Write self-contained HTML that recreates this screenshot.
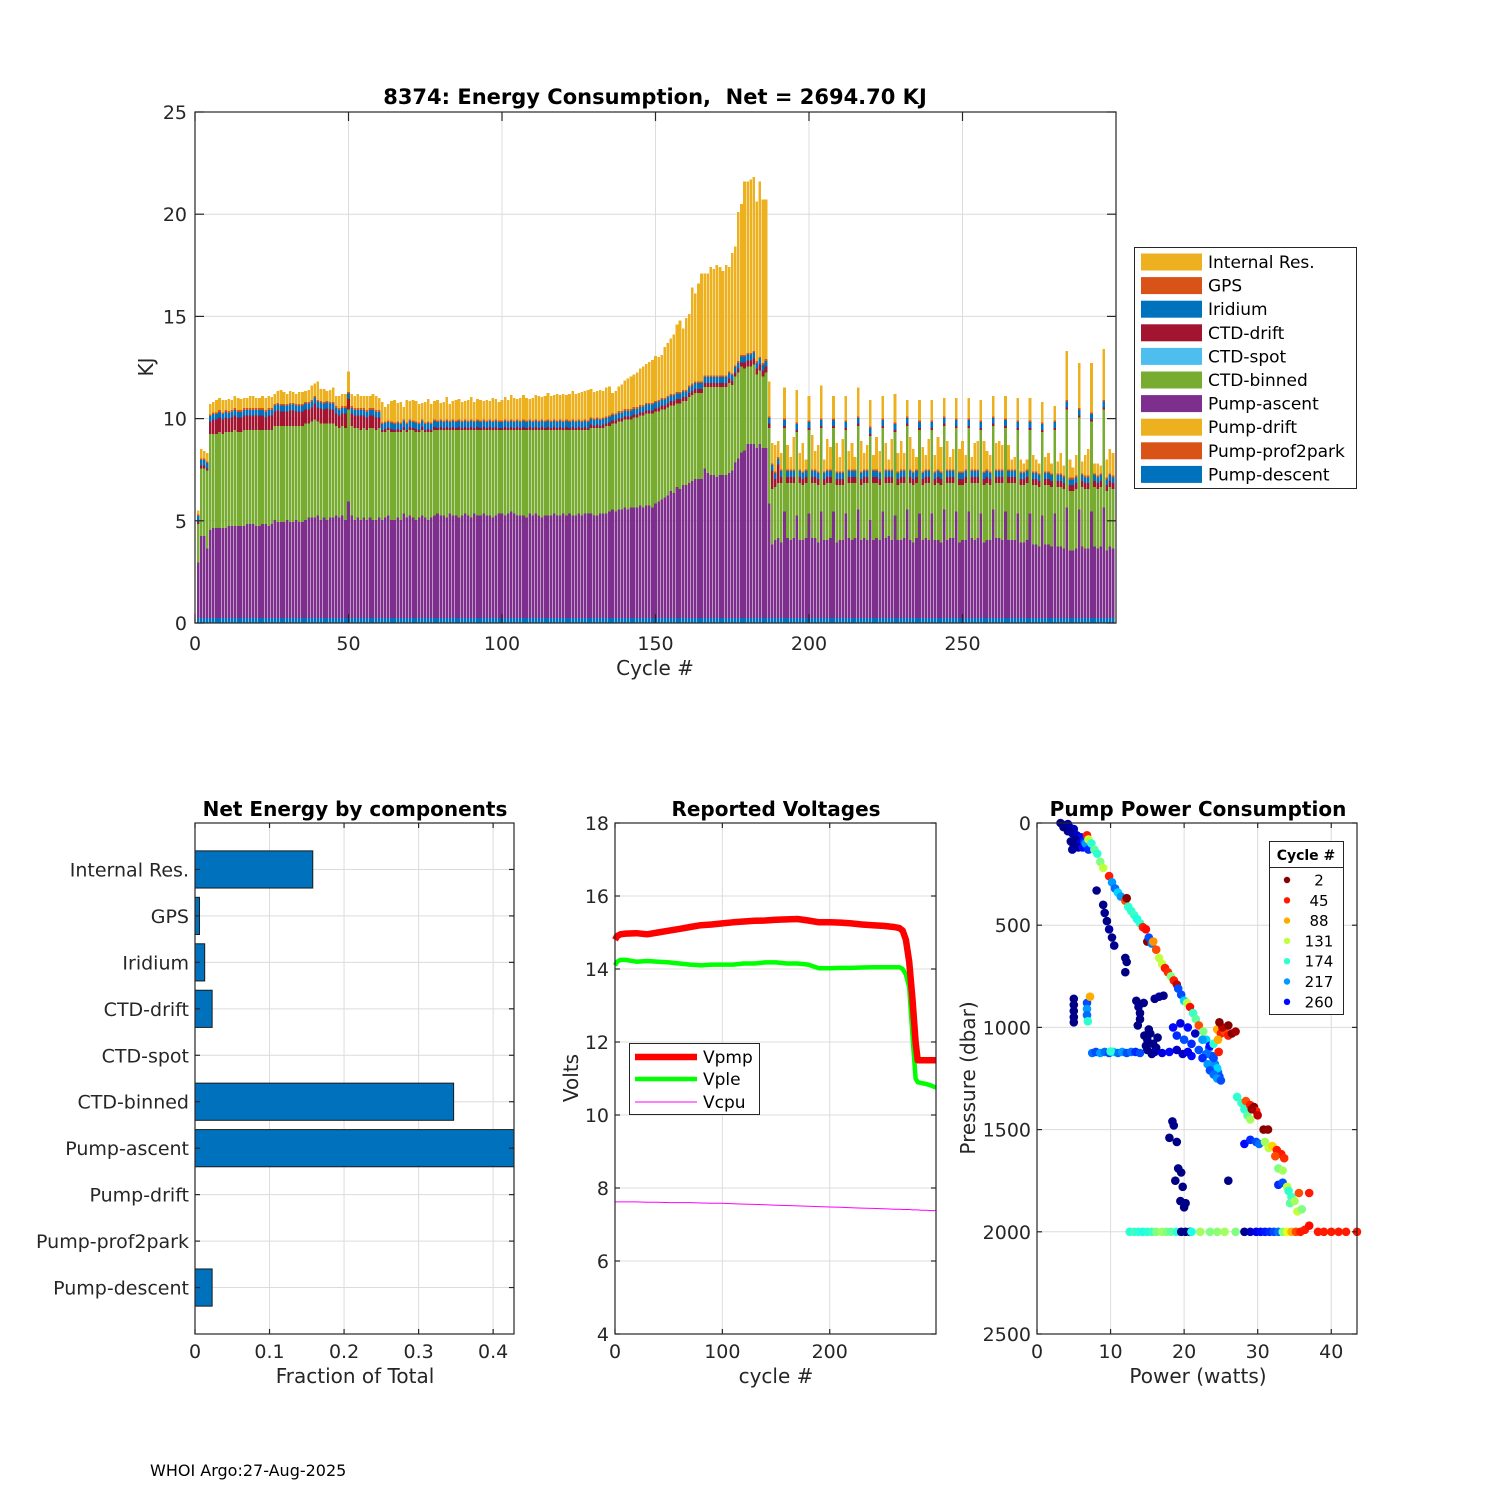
<!DOCTYPE html>
<html><head><meta charset="utf-8">
<style>
html,body{margin:0;padding:0;background:#fff;}
svg{display:block;font-family:"DejaVu Sans","Liberation Sans",sans-serif;}
text{fill:#262626;white-space:pre;}
</style></head>
<body>
<svg id="fig" width="1500" height="1500" viewBox="0 0 1500 1500">
<rect x="0" y="0" width="1500" height="1500" fill="#fff"/>
<g id="top"></g>
<g id="bl"></g>
<g id="bm"></g>
<g id="br"></g>
<text x="150" y="1476" font-size="16" style="fill:#000">WHOI Argo:27-Aug-2025</text>
</svg>
<script>
// ===== Top chart data (KJ per cycle, cycles 1..299) =====
const pumpAscent = [2.7,4.0,4.0,3.4,
4.3,4.4,4.4,4.4,4.4,4.4,4.5,4.5,4.5,4.5,4.5,4.5,4.6,
4.6,4.6,4.5,4.5,4.6,4.6,4.5,4.6,
4.8,4.7,4.7,4.7,4.8,4.7,4.7,4.8,4.7,4.7,
4.8,4.9,4.9,4.9,5.0,4.8,4.9,4.8,4.9,4.9,
5.0,4.9,5.0,4.8,5.7,5.0,4.8,4.9,4.8,4.9,4.8,4.9,4.8,4.8,4.9,
4.8,4.9,5.0,4.8,4.8,4.9,4.8,5.1,4.9,5.0,4.9,4.8,4.9,5.0,4.9,4.8,4.9,5.0,5.1,5.0,5.0,4.9,5.1,5.0,5.0,4.9,5.0,5.1,5.0,4.9,5.1,5.0,5.0,5.1,5.0,5.0,4.9,5.0,5.1,
5.1,5.0,5.1,5.2,5.1,5.0,5.0,5.0,4.9,5.1,5.0,5.1,5.0,4.9,5.0,5.0,5.0,5.1,5.0,5.0,5.1,5.0,5.1,5.0,5.0,5.1,5.0,5.1,5.1,5.1,5.0,5.0,5.1,5.1,5.1,5.2,
5.3,5.2,5.3,5.3,5.4,5.3,5.4,5.4,5.4,5.5,5.4,5.5,5.5,5.4,5.6,
5.7,5.8,5.9,6.0,6.2,6.1,6.4,6.3,6.5,6.5,
6.6,6.7,6.8,6.8,6.8,7.3,7.1,7.0,7.0,6.9,
7.0,7.0,7.0,7.1,7.2,7.6,7.8,8.1,
8.2,8.5,8.5,8.5,8.3,8.5,8.3,8.3,
5.6,
3.6,3.8,3.9,3.7,
5.2,3.9,3.8,3.9, 5.0,3.8,3.8,3.9, 5.1,3.9,3.9,3.7, 5.2,3.8,3.8,3.9, 5.2,3.7,3.8,3.8,
5.1,3.9,3.8,3.9, 5.3,3.8,3.9,3.8, 4.8,3.8,3.9,3.8, 5.2,3.9,4.0,3.8, 5.0,3.8,3.8,3.9,
5.3,3.8,3.7,3.9, 5.1,3.8,3.9,3.8, 5.1,3.8,3.8,3.7, 5.3,3.8,3.9,3.9, 5.2,3.7,3.8,3.8,
5.2,3.9,3.8,3.9, 5.1,3.7,3.8,3.8, 5.3,3.9,3.9,3.8, 5.2,3.8,3.8,3.8, 5.1,3.7,3.7,3.8,
5.1,3.6,3.6,3.5, 5.0,3.6,3.6,3.5, 5.1,3.5,3.5,3.4, 5.4,3.3,3.3,3.4, 5.3,3.5,3.4,3.4,
5.2,3.5,3.4,3.5, 5.4,3.3,3.5,3.4];
const ctdBinned = [1.9,3.3,3.3,3.8,
4.7,4.6,4.6,4.7,4.6,4.7,4.6,4.6,4.7,4.6,4.6,4.7,4.6,
4.6,4.6,4.7,4.7,4.6,4.6,4.7,4.6,
4.6,4.7,4.7,4.7,4.6,4.7,4.7,4.6,4.7,4.7,
4.7,4.6,4.7,4.8,4.6,4.7,4.6,4.7,4.6,4.6,
4.4,4.4,4.4,4.5,4.5,4.4,4.5,4.4,4.4,4.4,4.4,4.4,4.5,4.4,4.4,
4.3,4.2,4.2,4.3,4.3,4.2,4.3,4.1,4.2,4.2,4.3,4.3,4.2,4.2,4.2,4.3,4.2,4.2,4.1,4.2,4.2,4.3,4.1,4.2,4.2,4.3,4.2,4.1,4.2,4.3,4.1,4.2,4.2,4.1,4.2,4.2,4.3,4.2,4.1,
4.1,4.2,4.1,4.0,4.1,4.2,4.2,4.2,4.3,4.1,4.2,4.1,4.2,4.3,4.2,4.2,4.2,4.1,4.2,4.2,4.1,4.2,4.1,4.2,4.2,4.1,4.2,4.1,4.1,4.2,4.3,4.3,4.2,4.2,4.3,4.2,
4.2,4.3,4.3,4.3,4.3,4.4,4.3,4.4,4.4,4.4,4.5,4.5,4.5,4.6,4.5,
4.4,4.4,4.3,4.3,4.2,4.3,4.1,4.2,4.1,4.1,
4.2,4.2,4.2,4.2,4.2,4.0,4.2,4.3,4.3,4.4,
4.3,4.3,4.3,4.4,4.2,4.2,4.2,4.2,
4.0,3.8,3.8,3.9,3.6,3.6,3.5,3.7,
3.7,
2.7,2.6,2.7,2.9,
4.1,2.7,2.8,2.7, 4.1,2.8,2.7,2.7, 4.1,2.7,2.7,2.8, 4.1,2.7,2.8,2.7, 4.1,2.8,2.7,2.7,
4.1,2.7,2.8,2.7, 4.1,2.7,2.7,2.8, 4.1,2.8,2.7,2.7, 4.1,2.7,2.6,2.8, 4.1,2.7,2.8,2.7,
4.1,2.8,2.8,2.7, 4.1,2.7,2.7,2.8, 4.1,2.7,2.8,2.8, 4.1,2.8,2.7,2.7, 4.1,2.8,2.7,2.8,
4.1,2.7,2.8,2.7, 4.1,2.8,2.8,2.7, 4.1,2.7,2.7,2.8, 4.1,2.8,2.8,2.8, 4.1,2.8,2.8,2.8,
4.1,2.9,2.9,2.9, 4.1,2.9,2.9,2.9, 4.1,2.9,2.9,2.9, 4.8,2.9,2.9,2.9, 4.5,2.9,2.9,2.9,
4.4,2.9,2.9,2.9, 4.8,2.9,2.9,2.9];
const ctdDrift = [0.1,0.15,0.15,0.1,
0.6,0.7,0.7,0.7,0.7,0.7,0.65,0.7,0.7,0.7,0.7,0.7,0.7,
0.7,0.7,0.7,0.7,0.7,0.6,0.7,0.7,
0.7,0.75,0.7,0.7,0.7,0.75,0.75,0.7,0.7,0.7,
0.7,0.7,0.7,0.8,0.7,0.75,0.7,0.75,0.7,0.7,
0.6,0.6,0.6,0.7,0.5,0.6,0.6,0.6,0.7,0.6,0.6,0.6,0.6,0.6,0.5,
0.1,0.15,0.1,0.15,0.1,0.15,0.1,0.15,0.1,0.15,0.1,0.15,0.1,0.15,0.1,0.15,0.1,0.15,0.1,0.15,0.1,0.15,0.1,0.15,0.1,0.15,0.1,0.15,0.1,0.15,0.1,0.15,0.1,0.15,0.1,0.15,0.1,0.15,0.1,
0.1,0.15,0.1,0.15,0.1,0.15,0.1,0.15,0.1,0.15,0.1,0.15,0.1,0.15,0.1,0.15,0.1,0.15,0.1,0.15,0.1,0.15,0.1,0.15,0.1,0.15,0.1,0.15,0.1,0.15,0.1,0.15,0.1,0.15,0.1,0.15,
0.15,0.15,0.15,0.15,0.15,0.15,0.15,0.15,0.15,0.15,0.15,0.15,0.15,0.15,0.15,
0.2,0.2,0.2,0.2,0.2,0.2,0.2,0.2,0.2,0.2,
0.2,0.2,0.2,0.2,0.2,0.2,0.2,0.2,0.2,0.2,
0.2,0.2,0.2,0.2,0.2,0.2,0.2,0.2,
0.3,0.3,0.3,0.3,0.3,0.3,0.3,0.3,
0.2,
0.9,0.4,0.9,0.3,
0.1,0.3,0.3,0.3, 0.1,0.3,0.3,0.3, 0.1,0.3,0.3,0.3, 0.1,0.3,0.3,0.3, 0.1,0.3,0.3,0.3,
0.1,0.3,0.3,0.3, 0.1,0.3,0.3,0.3, 0.1,0.3,0.3,0.3, 0.1,0.3,0.3,0.3, 0.1,0.3,0.3,0.3,
0.1,0.3,0.3,0.3, 0.1,0.3,0.3,0.3, 0.1,0.3,0.3,0.3, 0.1,0.3,0.3,0.3, 0.1,0.3,0.3,0.3,
0.1,0.3,0.3,0.3, 0.1,0.3,0.3,0.3, 0.1,0.3,0.3,0.3, 0.1,0.3,0.3,0.3, 0.1,0.3,0.3,0.3,
0.1,0.3,0.3,0.3, 0.1,0.3,0.3,0.3, 0.1,0.3,0.3,0.3, 0.1,0.3,0.3,0.3, 0.1,0.3,0.3,0.3,
0.1,0.3,0.3,0.3, 0.1,0.3,0.3,0.3];
const internalRes = [0.2,0.45,0.35,0.4,
0.5,0.5,0.6,0.6,0.6,0.5,0.6,0.5,0.6,0.6,0.55,0.5,0.5,
0.6,0.6,0.5,0.5,0.6,0.6,0.6,0.55,
0.5,0.6,0.7,0.6,0.5,0.6,0.55,0.5,0.6,0.6,
0.55,0.6,0.7,0.6,0.9,0.6,0.65,0.5,0.6,0.7,
0.5,0.6,0.6,0.6,1.0,0.6,0.6,0.7,0.6,0.6,0.7,0.6,0.7,0.7,0.6,
1.0,0.7,0.8,1.0,1.1,0.9,1.0,0.6,1.1,0.9,1.0,1.0,0.9,0.8,1.0,1.1,0.9,0.9,1.0,0.8,0.9,1.1,0.8,0.9,1.0,1.0,0.9,0.9,1.0,1.1,0.9,1.0,1.0,0.9,1.0,0.9,1.1,1.0,0.9,
1.0,1.1,1.0,1.2,1.1,1.0,1.1,1.2,1.1,1.0,1.1,1.2,1.2,1.1,1.2,1.3,1.2,1.2,1.3,1.2,1.3,1.2,1.3,1.4,1.3,1.3,1.4,1.4,1.5,1.4,1.3,1.3,1.4,1.3,1.4,1.4,
1.0,1.1,1.2,1.3,1.4,1.5,1.6,1.6,1.7,1.8,1.9,1.9,2.0,2.1,2.2,
2.1,2.1,2.5,2.6,2.7,2.9,3.3,3.5,3.0,3.5,
3.5,4.7,4.3,4.8,5.3,5.0,5.0,5.3,5.2,5.4,
5.3,5.1,5.4,5.1,5.9,5.8,7.3,7.4,
8.5,8.4,8.5,8.5,7.8,8.6,8.0,7.8,
1.7,
1.0,1.3,0.8,0.8,
1.5,1.2,0.6,1.6, 1.6,0.8,1.4,0.5, 1.2,1.7,0.9,1.3, 1.6,0.6,1.5,1.1, 1.1,1.4,0.7,1.6,
1.2,0.9,1.3,0.6, 1.4,1.5,0.8,1.2, 1.3,0.7,1.6,1.0, 1.1,1.3,0.5,1.5, 1.4,0.9,1.4,0.8,
0.8,1.6,1.1,0.6, 1.0,1.2,0.7,1.5, 1.0,0.8,1.6,1.2, 0.9,1.4,0.6,1.0, 1.0,1.1,1.5,0.7,
1.0,0.6,1.3,1.4, 1.0,1.5,0.9,0.8, 1.0,1.3,1.4,1.2, 1.1,1.2,0.5,0.6, 1.1,0.6,0.4,0.5,
1.1,0.8,0.6,0.5, 1.0,0.7,0.9,0.5, 0.7,0.6,1.0,0.5, 2.4,0.9,0.5,1.0, 2.2,0.6,1.0,1.3,
2.4,0.5,0.6,0.4, 2.5,0.9,1.2,1.1];
const pumpDescentKJ = 0.25, pumpProf2parkKJ = 0.0, pumpDriftKJ = 0.0, ctdSpotKJ = 0.0, iridiumKJ = 0.28, gpsKJ = 0.08;
const topYTicks = [0,5,10,15,20,25];
const topXTicks = [0,50,100,150,200,250];
const legendLabels = ["Internal Res.","GPS","Iridium","CTD-drift","CTD-spot","CTD-binned","Pump-ascent","Pump-drift","Pump-prof2park","Pump-descent"];
const legendColors = ["#EDB120","#D95319","#0072BD","#A2142F","#4DBEEE","#77AC30","#7E2F8E","#EDB120","#D95319","#0072BD"];

// ===== Bottom-left data =====
const compLabels = ["Internal Res.","GPS","Iridium","CTD-drift","CTD-spot","CTD-binned","Pump-ascent","Pump-drift","Pump-prof2park","Pump-descent"];
const compFractions = [0.158,0.006,0.013,0.023,0,0.347,0.44,0,0,0.023];
const fracTicks = [0,0.1,0.2,0.3,0.4];

// ===== Bottom-middle data =====
const vCycles = [0,2,5,10,20,30,40,50,60,70,80,90,100,110,120,130,140,150,160,170,180,190,200,210,220,230,240,250,260,265,268,271,274,277,280,282,285,290,295,299];
const vPmp = [14.8,14.9,14.95,14.97,14.98,14.95,15.0,15.05,15.1,15.15,15.2,15.22,15.25,15.28,15.3,15.32,15.33,15.35,15.36,15.37,15.33,15.28,15.28,15.27,15.25,15.22,15.2,15.18,15.15,15.12,15.05,14.8,14.2,13.2,12.0,11.5,11.5,11.5,11.5,11.5];
const vPle = [14.1,14.2,14.25,14.25,14.2,14.22,14.2,14.18,14.15,14.12,14.1,14.12,14.12,14.12,14.15,14.15,14.18,14.18,14.15,14.15,14.12,14.02,14.02,14.03,14.03,14.04,14.05,14.05,14.05,14.05,14.0,13.85,13.5,12.2,11.0,10.9,10.88,10.85,10.8,10.75];
const vCpu = [7.62,7.62,7.62,7.62,7.62,7.61,7.61,7.6,7.6,7.6,7.59,7.58,7.58,7.57,7.56,7.55,7.54,7.53,7.52,7.51,7.5,7.49,7.48,7.47,7.46,7.45,7.44,7.43,7.42,7.42,7.41,7.41,7.41,7.40,7.40,7.40,7.39,7.39,7.38,7.38];
const voltTicksY = [4,6,8,10,12,14,16,18];
const voltTicksX = [0,100,200];

// ===== Bottom-right data: [power W, pressure dbar, cycle] =====
const topBlobPts = [[3.2,0,298],[3.8,10,295],[4.4,20,290],[5,30,285],[4.2,40,295],[4.8,50,290],[5.4,60,280],[6,70,260],[5.2,80,298],[4.6,90,295],[5.8,100,270],[6.4,90,250],[5,110,298],[5.6,120,295],[6.2,120,260],[4.8,130,290],[6.6,100,217],[7,130,250],[3.6,20,298],[4.2,5,290]];
const diagPts = [[6.8,60,45],[7,80,131],[7.4,100,174],[7.8,130,160],[8.2,150,174],[8.6,190,150],[9,220,131],[9.8,260,45],[10.2,290,217],[10.6,320,230],[11,340,200],[11.4,360,217],[12,380,60],[12.2,368,2],[12.4,410,174],[12.8,430,174],[13.2,450,170],[13.6,470,180],[14,490,174],[14.4,510,45],[14.8,520,40],[15,580,2],[15.2,560,240],[15.6,590,225],[15.8,580,80],[16.2,620,60],[16.6,660,131],[17,690,130],[17.4,710,45],[17.8,730,50],[18.2,750,150],[18.6,770,45],[19,790,20],[19.2,810,240],[19.6,840,240],[20,870,200],[20.4,880,131],[20.8,900,40],[21.2,930,170],[21.6,960,160],[22,990,60],[22.6,1020,150],[23,1060,200],[23.4,1100,230],[23.8,1140,240],[24.2,1180,220],[24.6,1220,230],[24.8,1240,240]];
const navyPts = [[8.1,330,298],[9,400,298],[9.2,440,295],[9.5,480,298],[9.8,520,290],[10.2,560,298],[10.5,600,295],[12,660,298],[12.2,680,298],[12,730,298],[5,860,298],[5,890,298],[5,920,298],[5,950,298],[5,975,298],[6.8,880,240],[6.8,910,217],[6.8,940,230],[6.9,970,174],[7.2,850,88],[13.5,870,298],[13.8,900,295],[14,930,298],[14,960,298],[13.7,990,298],[14.5,880,298],[16,860,298],[16.6,850,290],[17.2,845,298]];
const midClusterPts = [[14.6,1040,298],[15,1060,298],[15.4,1030,298],[15.8,1080,298],[16.2,1100,298],[15,1110,298],[15.6,1130,298],[14.8,1090,298],[16.4,1050,298],[15.2,1010,298],[16,1120,290],[7.5,1125,230],[8,1120,240],[8.6,1125,217],[9.2,1120,230],[9.8,1125,240],[10.4,1120,200],[11,1125,230],[11.6,1120,217],[12.2,1125,240],[12.8,1120,230],[13.4,1120,250],[14,1125,240],[17,1125,270],[18,1120,260],[19,1110,280],[10,1118,174],[18.5,1000,260],[19,1040,250],[19.5,980,270],[20,1060,240],[20.5,1000,260],[21,1080,250],[21.5,1030,280],[22,1110,240],[22.5,1060,217],[23,1130,230],[23.5,1090,260],[24,1150,240],[19.8,1130,280],[21,1140,260],[22.5,1150,250],[20.5,1120,270],[23.2,1180,217],[24.5,1200,200],[24,1080,174],[24.6,1060,131],[24.5,1010,88],[25,1030,45],[25.5,1020,60],[26,1040,45],[26.5,1030,2],[27,1020,10],[25.2,1000,20],[26,990,2],[24.6,1060,88],[24.7,1120,45],[24.8,975,2],[23.5,1210,240],[24,1230,230],[24.5,1250,217],[25,1260,240]];
const deepPts = [[27.2,1340,174],[27.8,1370,170],[28.2,1400,174],[28.6,1430,160],[29,1450,140],[28.4,1360,60],[29,1380,45],[29.5,1390,2],[29.8,1410,45],[30,1430,20],[29.2,1400,10],[30.8,1500,2],[31.4,1500,5],[18.4,1460,298],[18.6,1480,295],[18,1540,298],[19,1560,298],[19.2,1690,298],[19.6,1710,298],[18.8,1750,298],[19.8,1780,298],[19.5,1850,298],[20.2,1860,298],[20,1880,298],[26,1750,298],[28.2,1570,260],[29,1550,250],[29.8,1560,240],[30.2,1570,230],[31,1560,140],[31.5,1590,131],[32,1580,100],[32.6,1600,45],[33.2,1620,45],[33.6,1640,50],[32.4,1630,60],[32.8,1690,150],[33.4,1700,140],[32.8,1770,250],[33.4,1760,240],[34,1780,131],[34.2,1800,174],[34.6,1830,170],[34.4,1860,160],[35,1850,140],[35.4,1900,130],[36,1890,150],[35.6,1810,60],[37,1810,45]];
const bottomBandPts = [[12.6,2000,174],[13.2,2000,170],[13.8,2000,174],[14.4,2000,180],[15,2000,174],[15.6,2000,170],[16.2,2000,150],[17,2000,140],[17.6,2000,150],[18.2,2000,160],[19,2000,174],[19.6,2000,295],[20.2,2000,298],[20.8,2000,298],[21,2000,180],[22.2,2000,140],[23.5,2000,150],[24.5,2000,145],[25.5,2000,140],[27,2000,150],[28.2,2000,298],[29,2000,280],[29.8,2000,270],[30.4,2000,260],[31,2000,255],[31.6,2000,250],[32.2,2000,240],[32.8,2000,230],[33.4,2000,150],[34,2000,120],[34.6,2000,90],[35.2,2000,60],[35.8,2000,45],[36.4,1990,45],[37,1970,40],[38.2,2000,45],[39,2000,45],[40,2000,45],[41,2000,45],[42,2000,45],[43.5,2000,45]];
const legendCycles = [2,45,88,131,174,217,260];
const pressTicks = [0,500,1000,1500,2000,2500];
const powerTicks = [0,10,20,30,40];

const NS = "http://www.w3.org/2000/svg";
function mk(parent, tag, attrs, txt){
  const e = document.createElementNS(NS, tag);
  for (const k in attrs) e.setAttribute(k, attrs[k]);
  if (txt !== undefined) e.textContent = txt;
  parent.appendChild(e);
  return e;
}
function axesFrame(g, x0,y0,x1,y1, name){
  const r = mk(g,'rect',{x:x0,y:y0,width:x1-x0,height:y1-y0,fill:'none',stroke:'#262626','stroke-width':1.2});
  
  
}
function grid(g, x1,y1,x2,y2){
  mk(g,'line',{x1:x1,y1:y1,x2:x2,y2:y2,stroke:'#dcdcdc','stroke-width':1});
}
function tick(g,x1,y1,x2,y2){ mk(g,'line',{x1:x1,y1:y1,x2:x2,y2:y2,stroke:'#262626','stroke-width':1.2}); }

// ===================== TOP CHART =====================
(function(){
  const g = document.getElementById('top');
  const X0=195, X1=1116, Y0=112, Y1=623;
  const xs = c => X0 + c*(X1-X0)/300;
  const ys = v => Y1 - v*(Y1-Y0)/25;
  topYTicks.forEach(v=>grid(g,X0,ys(v),X1,ys(v)));
  topXTicks.forEach(v=>grid(g,xs(v),Y0,xs(v),Y1));
  const bars = mk(g,'g',{'shape-rendering':'crispEdges'});
  
  
  const bw = (X1-X0)/300*0.86;
  for (let i=0;i<pumpAscent.length;i++){
    const c=i+1;
    const segs = [
      [pumpDescentKJ,'#0072BD'],[pumpProf2parkKJ,'#D95319'],[pumpDriftKJ,'#EDB120'],
      [pumpAscent[i]||0,'#7E2F8E'],[ctdBinned[i]||0,'#77AC30'],[ctdSpotKJ,'#4DBEEE'],
      [ctdDrift[i]||0,'#A2142F'],[iridiumKJ,'#0072BD'],[gpsKJ,'#D95319'],[internalRes[i]||0,'#EDB120']];
    let base=0;
    segs.forEach(s=>{
      if (s[0]>0){
        const r = mk(bars,'rect',{x:(xs(c)-bw/2).toFixed(2),y:ys(base+s[0]).toFixed(2),width:bw.toFixed(2),height:(ys(base)-ys(base+s[0])).toFixed(2),fill:s[1]});
        
        
      }
      base+=s[0];
    });
  }
  axesFrame(g,X0,Y0,X1,Y1,'top-axes-box');
  topYTicks.forEach(v=>{
    tick(g,X0,ys(v),X0+9,ys(v)); tick(g,X1,ys(v),X1-9,ys(v));
    const t = mk(g,'text',{x:X0-8,y:ys(v)+7,'font-size':19,'text-anchor':'end'},String(v));
    
    
  });
  topXTicks.forEach(v=>{
    tick(g,xs(v),Y1,xs(v),Y1-9); tick(g,xs(v),Y0,xs(v),Y0+9);
    const t = mk(g,'text',{x:xs(v),y:Y1+27,'font-size':19,'text-anchor':'middle'},String(v));
    
    
  });
  let t = mk(g,'text',{x:655,y:104,'font-size':21,'font-weight':'bold','text-anchor':'middle',style:'fill:#000'},'8374: Energy Consumption,  Net = 2694.70 KJ');
  
  
  t = mk(g,'text',{x:0,y:0,'font-size':20,'text-anchor':'middle',transform:'translate(153,367) rotate(-90)'},'KJ');
  
  
  t = mk(g,'text',{x:655,y:675,'font-size':20,'text-anchor':'middle'},'Cycle #');
  
  
  const lg = mk(g,'g',{});
  
  
  mk(lg,'rect',{x:1134.5,y:247.5,width:222,height:241,fill:'#fff',stroke:'#262626','stroke-width':1});
  legendLabels.forEach((lab,k)=>{
    const cy = 262 + k*23.6;
    const e = mk(lg,'g',{});
    
    
    mk(e,'rect',{x:1141,y:cy-8.5,width:61,height:17,fill:legendColors[k]});
    mk(e,'text',{x:1208,y:cy+6,'font-size':17,style:'fill:#000'},lab);
  });
})();

// ===================== BOTTOM-LEFT =====================
(function(){
  const g = document.getElementById('bl');
  const X0=195, X1=514, Y0=823, Y1=1334;
  const xs = v => X0 + v*(X1-X0)/0.428;
  const step = (Y1-Y0)/11;
  const yc = k => Y0 + (k+1)*step;
  fracTicks.forEach(v=>grid(g,xs(v),Y0,xs(v),Y1));
  compLabels.forEach((l,k)=>grid(g,X0,yc(k),X1,yc(k)));
  const clip = mk(g,'clipPath',{id:'blclip'});
  mk(clip,'rect',{x:X0,y:Y0,width:X1-X0,height:Y1-Y0});
  const bg = mk(g,'g',{'clip-path':'url(#blclip)'});
  compFractions.forEach((v,k)=>{
    if (v<=0) return;
    const r = mk(bg,'rect',{x:X0,y:yc(k)-step*0.4,width:xs(v)-X0,height:step*0.8,fill:'#0072BD',stroke:'#1a1a1a','stroke-width':1});
    
    
  });
  axesFrame(g,X0,Y0,X1,Y1,'components-axes-box');
  fracTicks.forEach(v=>{
    tick(g,xs(v),Y1,xs(v),Y1-5); tick(g,xs(v),Y0,xs(v),Y0+5);
    const t = mk(g,'text',{x:xs(v),y:Y1+24,'font-size':19,'text-anchor':'middle'},String(v));
    
    
  });
  compLabels.forEach((l,k)=>{
    tick(g,X0,yc(k),X0+5,yc(k)); tick(g,X1,yc(k),X1-5,yc(k));
    const t = mk(g,'text',{x:X0-6,y:yc(k)+7,'font-size':19,'text-anchor':'end'},l);
    
    
  });
  let t = mk(g,'text',{x:355,y:816,'font-size':20,'font-weight':'bold','text-anchor':'middle',style:'fill:#000'},'Net Energy by components');
  
  
  t = mk(g,'text',{x:355,y:1383,'font-size':20,'text-anchor':'middle'},'Fraction of Total');
  
  
})();

// ===================== BOTTOM-MIDDLE =====================
(function(){
  const g = document.getElementById('bm');
  const X0=615, X1=936, Y0=823, Y1=1334;
  const xs = c => X0 + c*(X1-X0)/299;
  const ys = v => Y1 - (v-4)*(Y1-Y0)/14;
  voltTicksY.forEach(v=>grid(g,X0,ys(v),X1,ys(v)));
  voltTicksX.forEach(v=>grid(g,xs(v),Y0,xs(v),Y1));
  const series = [[vCpu,'#ff00ff',1,'vcpu-line'],[vPle,'#00ff00',4.5,'vple-line'],[vPmp,'#ff0000',6.5,'vpmp-line']];
  series.forEach(s=>{
    const pts = vCycles.map((c,i)=>xs(c).toFixed(1)+','+ys(s[0][i]).toFixed(1)).join(' ');
    const p = mk(g,'polyline',{points:pts,fill:'none',stroke:s[1],'stroke-width':s[2],'stroke-linejoin':'round'});
    
    
  });
  axesFrame(g,X0,Y0,X1,Y1,'voltages-axes-box');
  voltTicksY.forEach(v=>{
    tick(g,X0,ys(v),X0+5,ys(v)); tick(g,X1,ys(v),X1-5,ys(v));
    const t = mk(g,'text',{x:X0-6,y:ys(v)+7,'font-size':19,'text-anchor':'end'},String(v));
    
    
  });
  voltTicksX.forEach(v=>{
    tick(g,xs(v),Y1,xs(v),Y1-5); tick(g,xs(v),Y0,xs(v),Y0+5);
    const t = mk(g,'text',{x:xs(v),y:Y1+24,'font-size':19,'text-anchor':'middle'},String(v));
    
    
  });
  let t = mk(g,'text',{x:776,y:816,'font-size':20,'font-weight':'bold','text-anchor':'middle',style:'fill:#000'},'Reported Voltages');
  
  
  t = mk(g,'text',{x:776,y:1383,'font-size':20,'text-anchor':'middle'},'cycle #');
  
  
  t = mk(g,'text',{x:0,y:0,'font-size':20,'text-anchor':'middle',transform:'translate(578,1078) rotate(-90)'},'Volts');
  
  
  const lg = mk(g,'g',{});
  
  
  mk(lg,'rect',{x:629.5,y:1043.5,width:130,height:71,fill:'#fff',stroke:'#262626','stroke-width':1});
  [['Vpmp','#ff0000',6.5,1057],['Vple','#00ff00',4.5,1079],['Vcpu','#ff00ff',1,1102]].forEach(e=>{
    const eg = mk(lg,'g',{});
    
    
    mk(eg,'line',{x1:635,y1:e[3],x2:697,y2:e[3],stroke:e[1],'stroke-width':e[2]});
    mk(eg,'text',{x:703,y:e[3]+6,'font-size':17,style:'fill:#000'},e[0]);
  });
})();

// ===================== BOTTOM-RIGHT =====================
function jetRev(c){
  const t = 1 - c/300;
  const cl = v => Math.max(0,Math.min(1,v));
  const r = cl(1.5-Math.abs(4*t-3)), gg = cl(1.5-Math.abs(4*t-2)), b = cl(1.5-Math.abs(4*t-1));
  return 'rgb('+Math.round(r*255)+','+Math.round(gg*255)+','+Math.round(b*255)+')';
}
(function(){
  const g = document.getElementById('br');
  const X0=1037, X1=1357, Y0=823, Y1=1334;
  const xs = w => X0 + w*(X1-X0)/43.5;
  const ys = p => Y0 + p*(Y1-Y0)/2500;
  pressTicks.forEach(v=>grid(g,X0,ys(v),X1,ys(v)));
  powerTicks.forEach(v=>grid(g,xs(v),Y0,xs(v),Y1));
  const sg = mk(g,'g',{});
  
  
  [topBlobPts,diagPts,navyPts,midClusterPts,deepPts,bottomBandPts].forEach(arr=>{
    arr.forEach(pt=>{
      const c = mk(sg,'circle',{cx:xs(pt[0]).toFixed(1),cy:ys(pt[1]).toFixed(1),r:4.3,fill:jetRev(pt[2])});
      
      
    });
  });
  axesFrame(g,X0,Y0,X1,Y1,'pump-axes-box');
  pressTicks.forEach(v=>{
    tick(g,X0,ys(v),X0+5,ys(v)); tick(g,X1,ys(v),X1-5,ys(v));
    const t = mk(g,'text',{x:X0-6,y:ys(v)+7,'font-size':19,'text-anchor':'end'},String(v));
    
    
  });
  powerTicks.forEach(v=>{
    tick(g,xs(v),Y1,xs(v),Y1-5); tick(g,xs(v),Y0,xs(v),Y0+5);
    const t = mk(g,'text',{x:xs(v),y:Y1+24,'font-size':19,'text-anchor':'middle'},String(v));
    
    
  });
  let t = mk(g,'text',{x:1198,y:816,'font-size':20,'font-weight':'bold','text-anchor':'middle',style:'fill:#000'},'Pump Power Consumption');
  
  
  t = mk(g,'text',{x:1198,y:1383,'font-size':20,'text-anchor':'middle'},'Power (watts)');
  
  
  t = mk(g,'text',{x:0,y:0,'font-size':20,'text-anchor':'middle',transform:'translate(975,1078) rotate(-90)'},'Pressure (dbar)');
  
  
  const lg = mk(g,'g',{});
  
  
  mk(lg,'rect',{x:1269.5,y:841.5,width:74,height:173,fill:'#fff',stroke:'#262626','stroke-width':1});
  mk(lg,'line',{x1:1269.5,y1:867.5,x2:1343.5,y2:867.5,stroke:'#262626','stroke-width':1});
  mk(lg,'text',{x:1306,y:860,'font-size':14,'font-weight':'bold','text-anchor':'middle',style:'fill:#000'},'Cycle #');
  legendCycles.forEach((c,k)=>{
    const cy = 880 + k*20.3;
    const eg = mk(lg,'g',{});
    
    
    mk(eg,'circle',{cx:1287,cy:cy,r:3.2,fill:jetRev(c)});
    mk(eg,'text',{x:1319,y:cy+5.5,'font-size':15,'text-anchor':'middle',style:'fill:#000'},String(c));
  });
})();
</script>
</body></html>
